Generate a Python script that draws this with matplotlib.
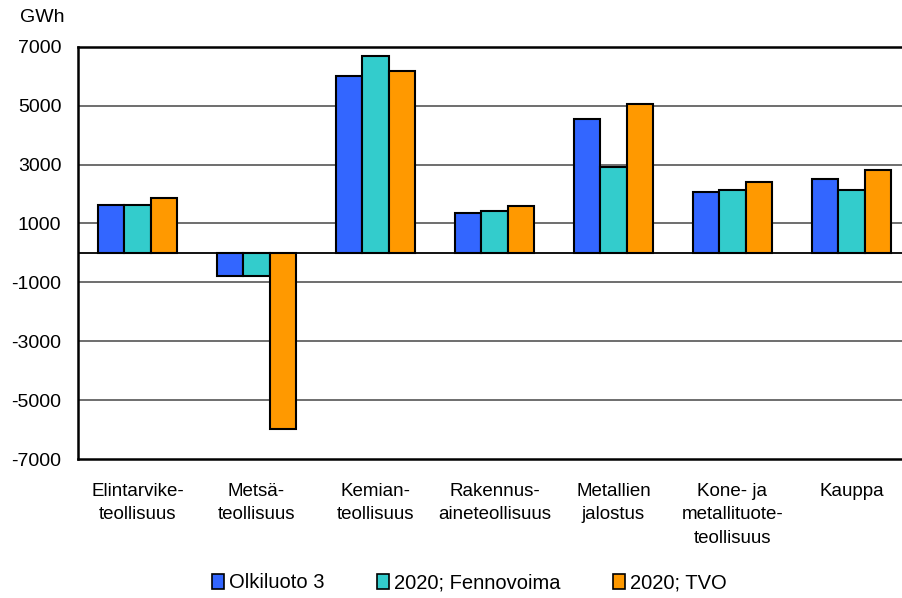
import numpy as np
import matplotlib.pyplot as plt
from matplotlib.patches import Patch

plt.rcParams['font.family'] = ['Liberation Sans', 'DejaVu Sans']

categories = ["Elintarvike-\nteollisuus", "Metsä-\nteollisuus", "Kemian-\nteollisuus",
              "Rakennus-\naineteollisuus", "Metallien\njalostus",
              "Kone- ja\nmetallituote-\nteollisuus", "Kauppa"]
series = ["Olkiluoto 3", "2020; Fennovoima", "2020; TVO"]
olkiluoto = [1640, -770, 6010, 1360, 4540, 2080, 2510]
fennovoima = [1640, -770, 6670, 1420, 2900, 2130, 2130]
tvo = [1850, -5970, 6190, 1580, 5040, 2410, 2830]
colors = ["#3366FF", "#33CCCC", "#FF9900"]
yticks = [7000, 5000, 3000, 1000, -1000, -3000, -5000, -7000]

fig = plt.figure(figsize=(9.03, 5.98), dpi=100)
ax = fig.add_axes([78 / 903, 1 - 459 / 598, 833 / 903, 412.3 / 598])

x = np.arange(len(categories))
w = 0.224
for i, (vals, c) in enumerate(zip([olkiluoto, fennovoima, tvo], colors)):
    ax.bar(x + (i - 1) * w, vals, w, color=c, edgecolor="black", linewidth=1.5, zorder=3)

ax.set_xlim(-0.5, len(categories) - 0.5)
ax.set_ylim(-7000, 7000)
ax.set_yticks(yticks)
ax.set_yticklabels([str(v) for v in yticks], fontsize=14)
for v in yticks[1:-1]:
    ax.axhline(v, color="#555555", linewidth=1.2, zorder=1)
ax.axhline(0, color="black", linewidth=1.3, zorder=4)
ax.tick_params(axis="y", length=0, pad=12)
ax.tick_params(axis="x", length=0, pad=17)
ax.set_xticks(x)
ax.set_xticklabels(categories, fontsize=13.5, linespacing=1.5, va="top")
for s in ["left", "top", "bottom"]:
    ax.spines[s].set_linewidth(1.8)
ax.spines["right"].set_visible(False)

fig.text(20 / 903, 1 - 18 / 598, "GWh", fontsize=14, va="center", ha="left")

handles = [Patch(facecolor=c, edgecolor="black", linewidth=1.2) for c in colors]
fig.legend(handles, series, loc="center", bbox_to_anchor=(469 / 903, 1 - 583 / 598),
           ncol=3, frameon=False, fontsize=14.5, handlelength=0.6, handleheight=0.7,
           handletextpad=0.25, columnspacing=2.6)

fig.savefig("out.png", dpi=100)
